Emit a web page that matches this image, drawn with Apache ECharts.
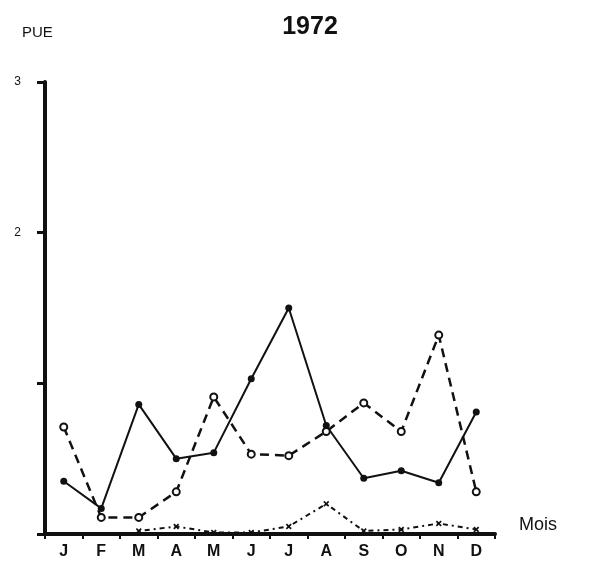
<!DOCTYPE html>
<html>
<head>
<meta charset="utf-8">
<script src="https://cdn.jsdelivr.net/npm/echarts@6/dist/echarts.min.js"></script>
<style>
  html, body { margin: 0; padding: 0; background: #fff; }
  #main { width: 589px; height: 569px; }
</style>
</head>
<body>
<div id="main"></div>
<script>
var months = ['J', 'F', 'M', 'A', 'M', 'J', 'J', 'A', 'S', 'O', 'N', 'D'];
var yTicks = ['', '', '2', '3'];
var seriesSolid = [0.35, 0.17, 0.86, 0.50, 0.54, 1.03, 1.50, 0.72, 0.37, 0.42, 0.34, 0.81];
var seriesDashed = [0.71, 0.11, 0.11, 0.28, 0.91, 0.53, 0.52, 0.68, 0.87, 0.68, 1.32, 0.28];
var seriesDotted = [null, null, 0.02, 0.05, 0.01, 0.01, 0.05, 0.20, 0.02, 0.03, 0.07, 0.03];

var ink = '#111';
var crossPath = 'path://M0,2L2,0L5,3L8,0L10,2L7,5L10,8L8,10L5,7L2,10L0,8L3,5Z';

var myChart = echarts.init(document.getElementById('main'));
var option = {
  animation: false,
  backgroundColor: '#fff',
  title: {
    text: '1972',
    left: 305,
    top: 10,
    textAlign: 'center',
    textStyle: { fontFamily: 'Liberation Sans', fontSize: 25, fontWeight: 'bold', color: ink }
  },
  grid: { left: 45, right: 94, top: 82, bottom: 35 },
  xAxis: {
    type: 'category',
    data: months,
    boundaryGap: true,
    name: 'Mois',
    nameLocation: 'end',
    nameGap: 24,
    nameTextStyle: { fontFamily: 'Liberation Sans', fontSize: 18, color: ink, verticalAlign: 'bottom' },
    axisLine: { show: true, lineStyle: { color: ink, width: 4 } },
    axisTick: { show: true, alignWithLabel: false, length: 5, lineStyle: { color: ink, width: 2 } },
    axisLabel: { fontFamily: 'Liberation Sans', fontSize: 16, fontWeight: 'bold', color: ink, margin: 10 },
    splitLine: { show: false }
  },
  yAxis: {
    type: 'value',
    min: 0,
    max: 3,
    interval: 1,
    name: 'PUE',
    nameLocation: 'end',
    nameGap: 42,
    nameTextStyle: { fontFamily: 'Liberation Sans', fontSize: 15, color: ink, align: 'left', padding: [0, 0, 0, -23] },
    axisLine: { show: true, lineStyle: { color: ink, width: 4 } },
    axisTick: { show: true, length: 8, lineStyle: { color: ink, width: 3 } },
    axisLabel: {
      fontFamily: 'Liberation Sans', fontSize: 12, color: ink, margin: 24,
      formatter: function (v) { return yTicks[v]; }
    },
    splitLine: { show: false }
  },
  series: [
    {
      name: 'solid',
      type: 'line',
      data: seriesSolid,
      symbol: 'circle',
      symbolSize: 7,
      itemStyle: { color: ink },
      lineStyle: { color: ink, width: 2 }
    },
    {
      name: 'dashed',
      type: 'line',
      data: seriesDashed,
      symbol: 'emptyCircle',
      symbolSize: 7,
      itemStyle: { color: ink, borderWidth: 2 },
      lineStyle: { color: ink, width: 2.5, type: [9, 6] }
    },
    {
      name: 'dotted',
      type: 'line',
      data: seriesDotted,
      connectNulls: false,
      symbol: crossPath,
      symbolSize: 6,
      itemStyle: { color: ink },
      lineStyle: { color: ink, width: 2, type: [2, 4, 5, 4] }
    }
  ]
};
myChart.setOption(option);
</script>
</body>
</html>
